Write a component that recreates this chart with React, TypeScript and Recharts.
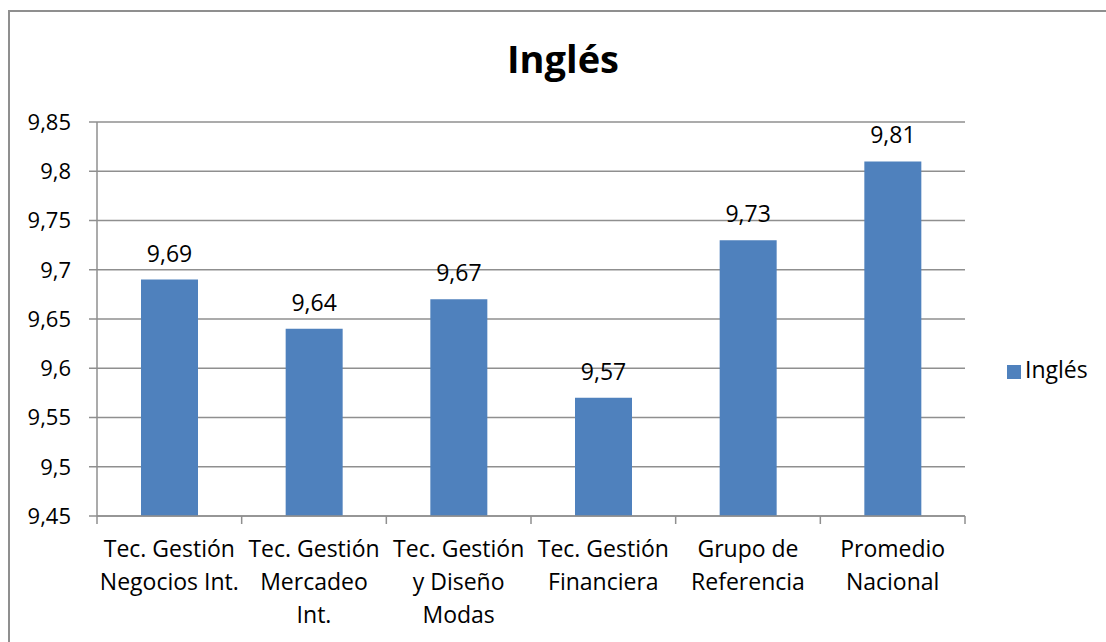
import React from 'react';
import { BarChart, Bar, XAxis, YAxis, CartesianGrid, Legend, LabelList } from 'recharts';

const categories = [
  'Tec. Gestión\nNegocios Int.',
  'Tec. Gestión\nMercadeo\nInt.',
  'Tec. Gestión\ny Diseño\nModas',
  'Tec. Gestión\nFinanciera',
  'Grupo de\nReferencia',
  'Promedio\nNacional',
];
const inglesValues = [9.69, 9.64, 9.67, 9.57, 9.73, 9.81];
const yTicks = [9.45, 9.5, 9.55, 9.6, 9.65, 9.7, 9.75, 9.8, 9.85];

const data = categories.map((name, i) => ({ name, value: inglesValues[i] }));

const FONT = '"Open Sans", "Noto Sans", sans-serif';
const GRID = '#8f8f8f';
const BAR = '#4f81bd';

const fmt = (v: number) => String(v).replace('.', ',');

const CategoryTick = (props: any) => {
  const { x, y, payload, index, visibleTicksCount } = props;
  const half = payload && payload.offset ? payload.offset : 72.3;
  const lines = String(payload.value).split('\n');
  return (
    <g>
      <line x1={x - half} x2={x - half} y1={y} y2={y + 8} stroke={GRID} strokeWidth={1.5} />
      {index === visibleTicksCount - 1 && (
        <line x1={x + half} x2={x + half} y1={y} y2={y + 8} stroke={GRID} strokeWidth={1.5} />
      )}
      <text x={x} y={y} textAnchor="middle" fontFamily={FONT} fontSize={23} fill="#000">
        {lines.map((l, i) => (
          <tspan key={i} x={x} dy={i === 0 ? 41 : 33}>{l}</tspan>
        ))}
      </text>
    </g>
  );
};

export default function App() {
  return (
    <div style={{ position: 'fixed', left: 0, top: 0, width: 1106, height: 642, background: '#fff', overflow: 'hidden', fontFamily: FONT }}>
      <div style={{ position: 'absolute', left: 8, top: 10, width: 1200, height: 700, borderLeft: `2px solid ${GRID}`, borderTop: `2px solid ${GRID}` }} />
      <div style={{ position: 'absolute', left: 0, top: 32, width: 1126, textAlign: 'center', fontSize: 38, fontWeight: 700, color: '#000' }}>
        Inglés
      </div>
      <div style={{ position: 'absolute', left: 0, top: 0 }}>
        <BarChart width={1106} height={642} data={data} margin={{ top: 122, right: 141, bottom: 0, left: 0 }}>
          <CartesianGrid vertical={false} stroke={GRID} strokeWidth={1.5} />
          <XAxis
            dataKey="name"
            height={126}
            tickSize={0}
            tickMargin={0}
            tickLine={false}
            axisLine={{ stroke: GRID, strokeWidth: 1.5 }}
            tick={<CategoryTick />}
            interval={0}
          />
          <YAxis
            width={97}
            domain={[9.45, 9.85]}
            ticks={yTicks}
            tickFormatter={fmt}
            tickSize={8}
            tickMargin={18}
            axisLine={{ stroke: GRID, strokeWidth: 1.5 }}
            tickLine={{ stroke: GRID, strokeWidth: 1.5 }}
            tick={{ fontFamily: FONT, fontSize: 22, fill: '#000' }}
            allowDataOverflow
          />
          <Legend
            layout="vertical"
            align="center"
            verticalAlign="middle"
            iconType="square"
            iconSize={14}
            formatter={(v: string) => <span style={{ color: '#000' }}>{v}</span>}
            wrapperStyle={{ left: 1007, top: 353, width: 100, fontFamily: FONT, fontSize: 23 }}
          />
          <Bar dataKey="value" name="Inglés" fill={BAR} barSize={57} isAnimationActive={false}>
            <LabelList dataKey="value" position="top" offset={18} formatter={(v: any) => fmt(v)} style={{ fontFamily: FONT, fontSize: 23, fill: '#000' }} />
          </Bar>
        </BarChart>
      </div>
    </div>
  );
}
